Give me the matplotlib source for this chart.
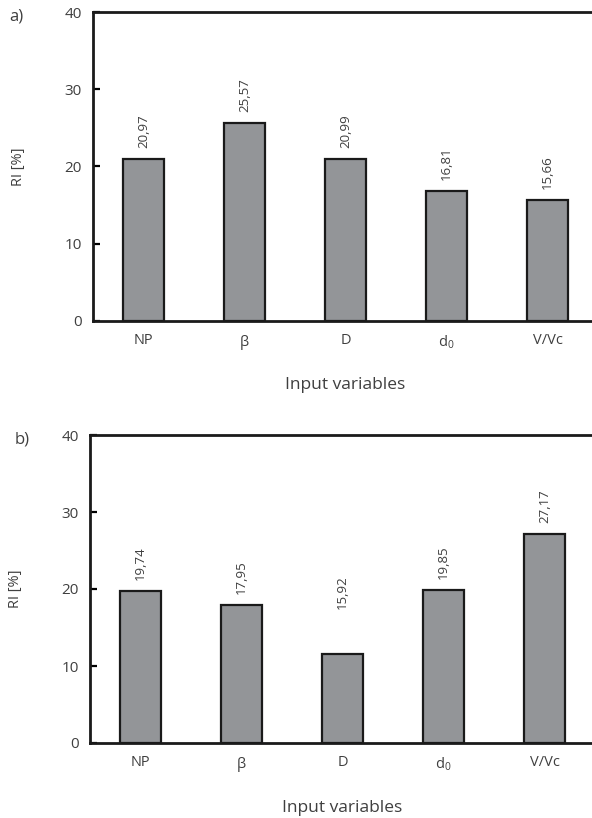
import matplotlib
matplotlib.use("Agg")
import matplotlib.pyplot as plt

# data
variables = ["NP", r"$\beta$", "D", r"d$_\mathregular{0}$", "V/Vc"]
# printed values
ri_a = [20.97, 25.57, 20.99, 16.81, 15.66]
ri_b = [19.74, 17.95, 15.92, 19.85, 27.17]
# bar heights as drawn (the D bar in b) is drawn shorter than its label)
bars_a = [20.97, 25.57, 20.99, 16.81, 15.66]
bars_b = [19.74, 17.95, 11.6, 19.85, 27.17]
labels_a = ["20,97", "25,57", "20,99", "16,81", "15,66"]
labels_b = ["19,74", "17,95", "15,92", "19,85", "27,17"]
yticks = [0, 10, 20, 30, 40]

plt.rcParams['font.family'] = ['Open Sans', 'DejaVu Sans']
plt.rcParams['mathtext.fontset'] = 'custom'
plt.rcParams['mathtext.rm'] = 'Open Sans'
plt.rcParams['mathtext.it'] = 'Open Sans'

fig = plt.figure(figsize=(5.92, 8.18), dpi=100)
text_col = "#3f3f3f"


def panel(rect, bars, values, labels, tag, tag_x):
    ax = fig.add_axes(rect)
    x = list(range(len(bars)))
    ax.bar(x, bars, width=0.41, color="#939598", edgecolor="#1a1a1a", linewidth=1.6)
    for xi, v, lab in zip(x, values, labels):
        ax.annotate(lab, (xi, v), xytext=(0, 8), textcoords="offset points",
                    rotation=90, ha="center", va="bottom", fontsize=9.5, color=text_col)
    ax.set_xlim(-0.5, 4.5)
    ax.set_ylim(0, 40)
    ax.set_yticks(yticks)
    ax.set_xticks(x)
    ax.set_xticklabels(variables)
    ax.tick_params(axis="y", direction="in", length=5, width=1.6, labelsize=11,
                   labelcolor=text_col, pad=8)
    ax.tick_params(axis="x", length=0, labelsize=10.5, labelcolor=text_col, pad=9)
    for s in ["left", "top", "bottom"]:
        ax.spines[s].set_linewidth(2)
        ax.spines[s].set_color("#1a1a1a")
    ax.spines["right"].set_visible(False)
    ax.set_ylabel("RI [%]", fontsize=10.5, color=text_col, labelpad=28)
    ax.set_xlabel("Input variables", fontsize=12.5, color=text_col, labelpad=18)
    ax.text(tag_x, 0.984, tag, transform=ax.transAxes, fontsize=12, color=text_col,
            ha="left", va="center")
    return ax


panel([93 / 592, 1 - 321 / 818, 505 / 592, 309 / 818], bars_a, ri_a, labels_a, "a)", -0.166)
panel([90 / 592, 1 - 743 / 818, 505 / 592, 308 / 818], bars_b, ri_b, labels_b, "b)", -0.149)

fig.savefig("out.png", dpi=100)
